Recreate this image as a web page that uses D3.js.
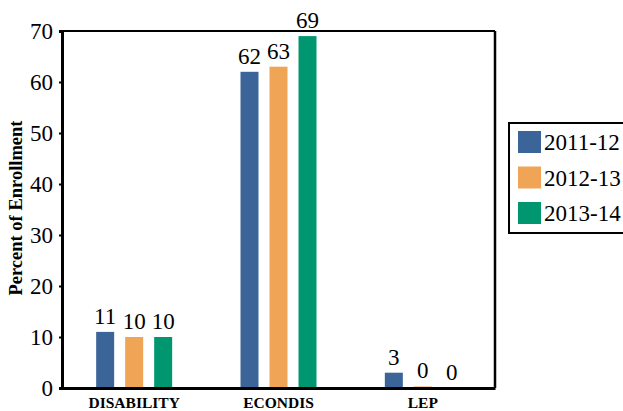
<!DOCTYPE html>
<html><head><meta charset="utf-8">
<script src="https://cdn.jsdelivr.net/npm/d3@7"></script>
<style>body{margin:0;background:#fff}svg{display:block}</style>
</head><body>
<svg id="c" width="623" height="411"></svg>
<script>
const categories = ["DISABILITY", "ECONDIS", "LEP"];
const seriesNames = ["2011-12", "2012-13", "2013-14"];
const v2011 = [11, 62, 3];
const v2012 = [10, 63, 0.3];
const v2013 = [10, 69, 0];
const yTicks = [0, 10, 20, 30, 40, 50, 60, 70];
const colors = ["#3b6598", "#f0a455", "#009770"];
const seriesValues = [v2011, v2012, v2013];

const svg = d3.select("#c");
const m = {l: 62, t: 31, r: 495, b: 388};
const serif = "'Liberation Serif','Times New Roman',serif";

const x = d3.scaleBand().domain(categories).range([m.l, m.r]).padding(0);
const x1 = d3.scalePoint().domain(seriesNames).range([-29, 29]);
const y = d3.scaleLinear().domain([0, 70]).range([m.b, m.t]);
const bw = 18;

// bars
seriesNames.forEach((s, si) => {
  const g = svg.append("g");
  categories.forEach((c, ci) => {
    const val = seriesValues[si][ci];
    const cx = x(c) + x.bandwidth() / 2 + x1(s);
    g.append("rect")
      .attr("x", cx - bw / 2).attr("width", bw)
      .attr("y", y(val)).attr("height", y(0) - y(val))
      .attr("fill", colors[si]);
    g.append("text")
      .attr("x", cx).attr("y", y(val) - 8)
      .attr("text-anchor", "middle")
      .attr("font-family", serif).attr("font-size", 23)
      .text(Math.round(val));
  });
});

// frame
svg.append("line").attr("x1", m.l).attr("x2", m.r).attr("y1", m.t).attr("y2", m.t).attr("stroke", "#000").attr("stroke-width", 2);
svg.append("line").attr("x1", m.r).attr("x2", m.r).attr("y1", m.t).attr("y2", m.b).attr("stroke", "#000").attr("stroke-width", 2.5);

// y axis
const ya = svg.append("g").attr("transform", `translate(${m.l},0)`)
  .call(d3.axisLeft(y).tickValues(yTicks).tickSize(3).tickPadding(6));
ya.select(".domain").attr("stroke", "#000").attr("stroke-width", 3);
ya.selectAll(".tick line").attr("stroke", "#000").attr("stroke-width", 2);
ya.selectAll("text").attr("font-family", serif).attr("font-size", 23).attr("fill", "#000");

// x axis
const xa = svg.append("g").attr("transform", `translate(0,${m.b})`)
  .call(d3.axisBottom(x).tickSize(0).tickPadding(9));
xa.select(".domain").attr("stroke", "#000").attr("stroke-width", 3);
xa.selectAll("text").attr("font-family", serif).attr("font-size", 15.5).attr("font-weight", "bold").attr("fill", "#000");

// y title
svg.append("text")
  .attr("transform", `translate(22,${208}) rotate(-90)`)
  .attr("text-anchor", "middle")
  .attr("font-family", serif).attr("font-size", 18.5).attr("font-weight", "bold")
  .text("Percent of Enrollment");

// legend
const lg = svg.append("g").attr("transform", "translate(509,123)");
lg.append("rect").attr("x", 0).attr("y", 0).attr("width", 116).attr("height", 110)
  .attr("fill", "#fff").attr("stroke", "#000").attr("stroke-width", 2);
seriesNames.forEach((s, i) => {
  lg.append("rect").attr("x", 9).attr("y", 8 + i * 35.5).attr("width", 23).attr("height", 22).attr("fill", colors[i]);
  lg.append("text").attr("x", 35).attr("y", 27 + i * 35.5)
    .attr("font-family", serif).attr("font-size", 23).text(s);
});
</script>
</body></html>
